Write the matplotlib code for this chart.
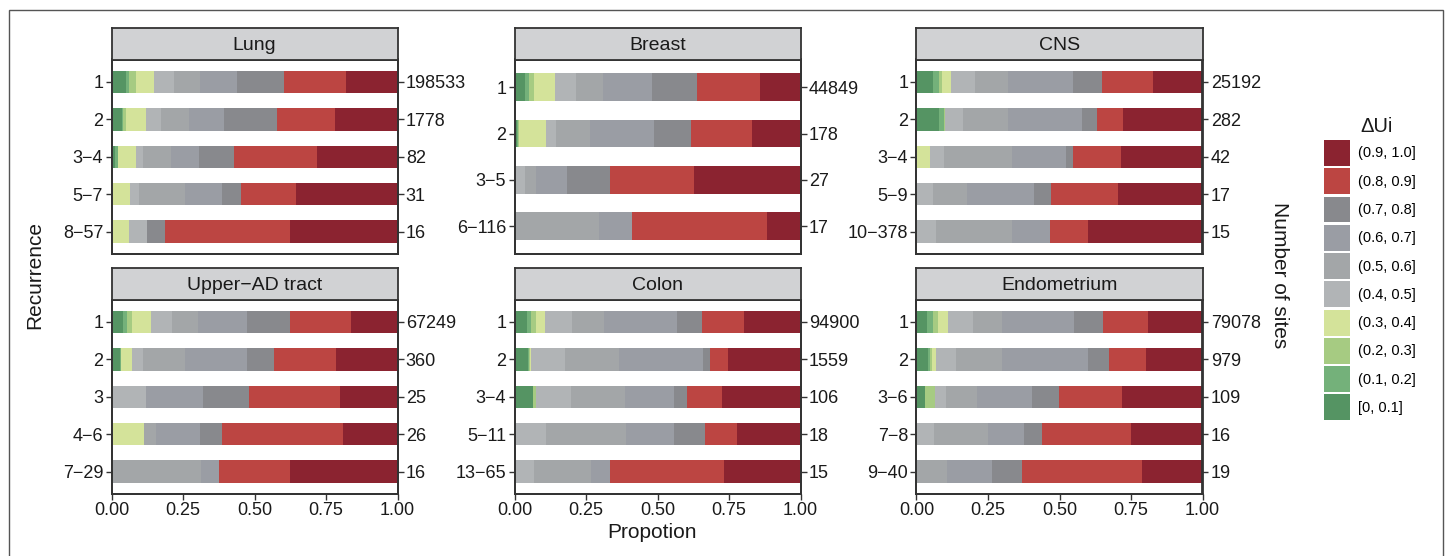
import numpy as np
import matplotlib
matplotlib.use("Agg")
import matplotlib.pyplot as plt
from matplotlib.patches import Patch, Rectangle

plt.rcParams['font.family'] = ['Liberation Sans', 'DejaVu Sans']

# legend classes, low -> high
classes = ["[0, 0.1]", "(0.1, 0.2]", "(0.2, 0.3]", "(0.3, 0.4]", "(0.4, 0.5]",
           "(0.5, 0.6]", "(0.6, 0.7]", "(0.7, 0.8]", "(0.8, 0.9]", "(0.9, 1.0]"]
colors = ["#559463", "#74B17A", "#A6CB82", "#D4E39A", "#B1B4B6",
          "#A3A6A8", "#9A9DA4", "#88898D", "#BC4542", "#8B2330"]

panels = ["Lung", "Breast", "CNS", "Upper\u2212AD tract", "Colon", "Endometrium"]

lung_rec = ["1", "2", "3\u22124", "5\u22127", "8\u221257"]
lung_sites = [198533, 1778, 82, 31, 16]
lung_prop = [
    [0.050, 0.011, 0.024, 0.063, 0.070, 0.091, 0.129, 0.165, 0.216, 0.181],
    [0.036, 0.005, 0.011, 0.068, 0.052, 0.098, 0.123, 0.185, 0.203, 0.219],
    [0.012, 0.012, 0.000, 0.061, 0.024, 0.098, 0.098, 0.122, 0.293, 0.280],
    [0, 0, 0, 0.065, 0.032, 0.161, 0.129, 0.065, 0.194, 0.354],
    [0, 0, 0, 0.0625, 0.0625, 0, 0, 0.0625, 0.4375, 0.375],
]

breast_rec = ["1", "2", "3\u22125", "6\u2212116"]
breast_sites = [44849, 178, 27, 17]
breast_prop = [
    [0.037, 0.015, 0.017, 0.073, 0.073, 0.095, 0.171, 0.157, 0.220, 0.142],
    [0.008, 0.004, 0.003, 0.096, 0.035, 0.118, 0.224, 0.129, 0.213, 0.170],
    [0, 0, 0, 0, 0.037, 0.037, 0.111, 0.148, 0.296, 0.371],
    [0, 0, 0, 0, 0, 0.294, 0.118, 0, 0.471, 0.117],
]

cns_rec = ["1", "2", "3\u22124", "5\u22129", "10\u2212378"]
cns_sites = [25192, 282, 42, 17, 15]
cns_prop = [
    [0.057, 0.021, 0.011, 0.031, 0.084, 0.115, 0.228, 0.101, 0.178, 0.174],
    [0.078, 0.018, 0.003, 0, 0.063, 0.157, 0.259, 0.053, 0.090, 0.279],
    [0, 0, 0, 0.048, 0.048, 0.238, 0.190, 0.024, 0.167, 0.285],
    [0, 0, 0, 0, 0.059, 0.118, 0.235, 0.059, 0.235, 0.294],
    [0, 0, 0, 0, 0.067, 0.267, 0.133, 0, 0.133, 0.400],
]

uad_rec = ["1", "2", "3", "4\u22126", "7\u221229"]
uad_sites = [67249, 360, 25, 26, 16]
uad_prop = [
    [0.040, 0.014, 0.017, 0.067, 0.073, 0.091, 0.172, 0.150, 0.214, 0.162],
    [0.029, 0.004, 0, 0.038, 0.039, 0.147, 0.217, 0.094, 0.217, 0.215],
    [0, 0, 0, 0, 0.12, 0, 0.20, 0.16, 0.32, 0.20],
    [0, 0, 0, 0.115, 0, 0.039, 0.154, 0.077, 0.423, 0.192],
    [0, 0, 0, 0, 0, 0.3125, 0.0625, 0, 0.25, 0.375],
]

colon_rec = ["1", "2", "3\u22124", "5\u221211", "13\u221265"]
colon_sites = [94900, 1559, 106, 18, 15]
colon_prop = [
    [0.044, 0.014, 0.018, 0.031, 0.094, 0.112, 0.254, 0.088, 0.146, 0.199],
    [0.048, 0.004, 0.003, 0.003, 0.119, 0.188, 0.293, 0.025, 0.062, 0.255],
    [0.066, 0, 0.009, 0, 0.123, 0.189, 0.170, 0.047, 0.123, 0.273],
    [0, 0, 0, 0, 0.111, 0.278, 0.167, 0.111, 0.111, 0.222],
    [0, 0, 0, 0, 0.067, 0.200, 0.067, 0, 0.400, 0.266],
]

endo_rec = ["1", "2", "3\u22126", "7\u22128", "9\u221240"]
endo_sites = [79078, 979, 109, 16, 19]
endo_prop = [
    [0.036, 0.021, 0.017, 0.035, 0.088, 0.101, 0.254, 0.101, 0.157, 0.190],
    [0.040, 0.007, 0.006, 0.014, 0.070, 0.161, 0.303, 0.073, 0.129, 0.197],
    [0.028, 0, 0.037, 0, 0.037, 0.110, 0.193, 0.092, 0.220, 0.283],
    [0, 0, 0, 0, 0.0625, 0.1875, 0.125, 0.0625, 0.3125, 0.25],
    [0, 0, 0, 0, 0, 0.105, 0.158, 0.105, 0.421, 0.211],
]

panel_data = [
    (lung_rec, lung_sites, lung_prop),
    (breast_rec, breast_sites, breast_prop),
    (cns_rec, cns_sites, cns_prop),
    (uad_rec, uad_sites, uad_prop),
    (colon_rec, colon_sites, colon_prop),
    (endo_rec, endo_sites, endo_prop),
]

W, H = 1447, 556
fig = plt.figure(figsize=(W / 100, H / 100), dpi=100)

# outer frame
fig.patches.append(Rectangle((8.5 / W, -0.05), (1443 - 8.5) / W, 1.05 - 10 / H,
                             transform=fig.transFigure, fill=False,
                             edgecolor="#555555", lw=1.0))

col_x = [111.5, 514.5, 916.5]
row_top = [59.5, 299.5]
ax_w, ax_h, strip_h = 286, 194.5, 31.5
edge = "#333333"
tick_fs = 13

for i, (name, (rec, sites, prop)) in enumerate(zip(panels, panel_data)):
    r, c = divmod(i, 3)
    x0 = col_x[c]
    y0 = row_top[r]
    ax = fig.add_axes([x0 / W, 1 - (y0 + ax_h) / H, ax_w / W, ax_h / H])
    prop = np.array(prop)
    lefts = np.cumsum(prop, axis=1) - prop
    y = np.arange(1, len(rec) + 1)
    for k in range(len(classes)):
        ax.barh(y, prop[:, k], left=lefts[:, k], height=0.6,
                color=colors[k], linewidth=0)
    ax.set_xlim(0, 1)
    ax.set_ylim(len(rec) + 0.6, 0.4)
    ax.set_yticks(y)
    ax.set_yticklabels(rec)
    ax.tick_params(axis="y", labelsize=tick_fs, length=4, width=1, color=edge,
                   labelcolor="#1a1a1a", pad=2)
    ax2 = ax.twinx()
    ax2.set_ylim(ax.get_ylim())
    ax2.set_yticks(y)
    ax2.set_yticklabels([str(s) for s in sites])
    ax2.tick_params(axis="y", labelsize=tick_fs, length=4, width=1, color=edge,
                    labelcolor="#1a1a1a", pad=2)
    ax.set_xticks([0, 0.25, 0.5, 0.75, 1.0])
    if r == 1:
        ax.set_xticklabels(["0.00", "0.25", "0.50", "0.75", "1.00"])
        ax.tick_params(axis="x", labelsize=tick_fs, length=4, width=1,
                       color=edge, labelcolor="#1a1a1a", pad=2)
    else:
        ax.tick_params(axis="x", length=0, labelbottom=False)
    for a in (ax, ax2):
        for s in a.spines.values():
            s.set_color(edge)
            s.set_linewidth(1.3)

    # facet strip
    st = fig.add_axes([x0 / W, 1 - y0 / H, ax_w / W, strip_h / H])
    st.set_facecolor("#D1D2D4")
    st.set_xticks([])
    st.set_yticks([])
    for s in st.spines.values():
        s.set_color(edge)
        s.set_linewidth(1.3)
    st.text(0.5, 0.45, name, ha="center", va="center", fontsize=14,
            color="#1a1a1a", transform=st.transAxes)

fig.text(35 / W, 1 - 275 / H, "Recurrence", rotation=90, ha="center",
         va="center", fontsize=15, color="#1a1a1a")
fig.text(652 / W, 1 - 533 / H, "Propotion", ha="center", va="center",
         fontsize=15, color="#1a1a1a")
fig.text(1280 / W, 1 - 275 / H, "Number of sites", rotation=-90, ha="center",
         va="center", fontsize=15, color="#1a1a1a")

handles = [Patch(facecolor=colors[k], edgecolor="none", label=classes[k])
           for k in range(len(classes) - 1, -1, -1)]
fig.legend(handles=handles, loc="upper left",
           bbox_to_anchor=(1324 / W, 1 - 140 / H), frameon=False,
           fontsize=10.5, handlelength=1.78, handleheight=2.36,
           labelspacing=0.16, handletextpad=0.55, borderpad=0,
           borderaxespad=0)
fig.text(1360 / W, 1 - 127 / H, "\u0394Ui", ha="left", va="center",
         fontsize=14.5, color="#1a1a1a")

fig.savefig("out.png", dpi=100)
